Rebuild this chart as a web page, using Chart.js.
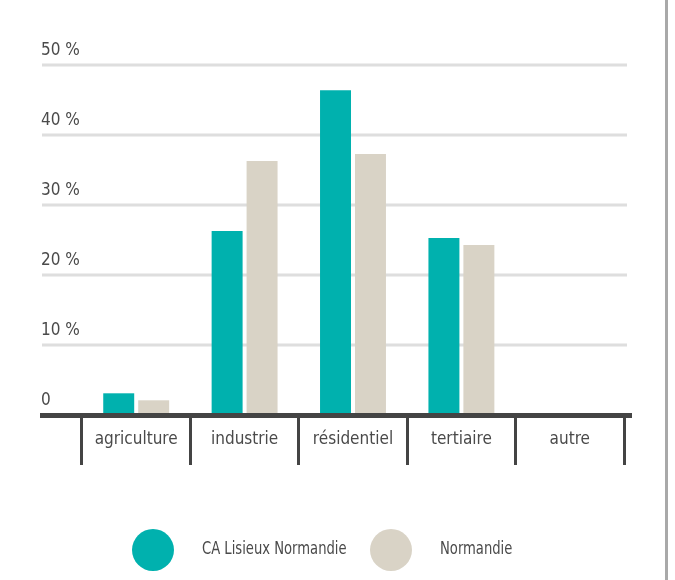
<!DOCTYPE html>
<html>
<head>
<meta charset="utf-8">
<script src="https://cdn.jsdelivr.net/npm/chart.js@4/dist/chart.umd.min.js"></script>
<style>
  html, body { margin: 0; padding: 0; background: #fff; }
  #wrap { width: 675px; height: 580px; position: relative; }
</style>
</head>
<body>
<div id="wrap"><canvas id="chart"></canvas></div>
<script>
const categories = ['agriculture', 'industrie', 'résidentiel', 'tertiaire', 'autre'];
const seriesNames = ['CA Lisieux Normandie', 'Normandie'];
const lisieux = [3.1, 26.3, 46.4, 25.3, 0];
const normandie = [2.1, 36.3, 37.3, 24.3, 0];
const yTicks = [0, 10, 20, 30, 40, 50];
const yLabels = ['0', '10 %', '20 %', '30 %', '40 %', '50 %'];

const FONT = '"DejaVu Sans Condensed", "Roboto Condensed", Roboto, sans-serif';
const TEXT = '#4a4a4a';

// gridlines, y labels, baseline, right rule and legend
const decor = {
  id: 'decor',
  beforeDatasetsDraw(chart) {
    const ctx = chart.ctx, y = chart.scales.y;
    ctx.save();
    ctx.strokeStyle = '#dedede';
    ctx.lineWidth = 3;
    yTicks.forEach((v, i) => {
      const py = Math.round(y.getPixelForValue(v));
      if (v > 0) {
        ctx.beginPath();
        ctx.moveTo(42, py);
        ctx.lineTo(627, py);
        ctx.stroke();
      }
      ctx.fillStyle = TEXT;
      ctx.font = '17px ' + FONT;
      ctx.textAlign = 'left';
      ctx.textBaseline = 'middle';
      ctx.fillText(yLabels[i], 41, py - 14);
    });
    ctx.restore();
  },
  afterDatasetsDraw(chart) {
    const ctx = chart.ctx, y = chart.scales.y;
    const py = y.getPixelForValue(0);
    ctx.save();
    ctx.fillStyle = '#444';
    ctx.fillRect(40, py - 2, 592, 5);
    // right rule
    ctx.fillStyle = '#a9a9a9';
    ctx.fillRect(665, 0, 3, 580);
    // legend
    const items = [
      { x: 153, tx: 202 },
      { x: 391, tx: 440 }
    ];
    chart.data.datasets.forEach((ds, i) => {
      ctx.fillStyle = ds.backgroundColor;
      ctx.beginPath();
      ctx.arc(items[i].x, 550, 21, 0, Math.PI * 2);
      ctx.fill();
      ctx.save();
      ctx.translate(items[i].tx, 550);
      ctx.scale(0.86, 1);
      ctx.fillStyle = TEXT;
      ctx.font = '17px ' + FONT;
      ctx.textAlign = 'left';
      ctx.textBaseline = 'middle';
      ctx.fillText(ds.label, 0, 0);
      ctx.restore();
    });
    ctx.restore();
  }
};

new Chart(document.getElementById('chart'), {
  type: 'bar',
  data: {
    labels: categories,
    datasets: [
      { label: seriesNames[0], data: lisieux, backgroundColor: '#00b1ae' },
      { label: seriesNames[1], data: normandie, backgroundColor: '#d9d3c6' }
    ]
  },
  options: {
    responsive: true,
    maintainAspectRatio: false,
    animation: false,
    categoryPercentage: 0.645,
    barPercentage: 0.886,
    layout: { padding: { left: 82, right: 51, top: 65, bottom: 105 } },
    plugins: { legend: { display: false }, tooltip: { enabled: false } },
    scales: {
      y: { display: false, min: 0, max: 50 },
      x: {
        afterFit(scale) { scale.height = 60; },
        border: { display: false },
        grid: {
          offset: true,
          drawOnChartArea: false,
          drawTicks: true,
          tickLength: 50,
          color: '#444',
          lineWidth: 3
        },
        ticks: {
          padding: -36,
          color: TEXT,
          font: { family: FONT, size: 17 }
        }
      }
    }
  },
  plugins: [decor]
});
</script>
</body>
</html>
